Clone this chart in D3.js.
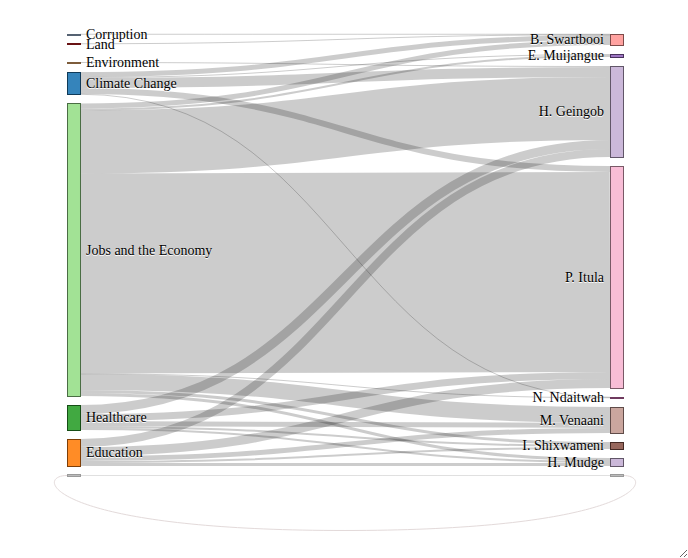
<!DOCTYPE html>
<html><head><meta charset="utf-8">
<script src="https://cdn.jsdelivr.net/npm/d3@7"></script>
<style>
html,body{margin:0;padding:0;background:#fff;}
#wrap{width:688px;height:558px;resize:both;overflow:hidden;position:relative;}
svg{display:block;}
.node text{font-family:"Liberation Serif","Times New Roman",serif;font-size:14px;fill:#000;text-shadow:0 1px 0 #fff;pointer-events:none;}
</style></head><body><div id="wrap"></div>
<script>
// ---------- data ----------
const leftNodes  = ["Corruption","Land","Environment","Climate Change","Jobs and the Economy","Healthcare","Education",""];
const rightNodes = ["B. Swartbooi","E. Muijangue","H. Geingob","P. Itula","N. Ndaitwah","M. Venaani","I. Shixwameni","H. Mudge",""];
const linkSource = [
  "Corruption","Land","Environment",
  "Climate Change","Climate Change","Climate Change","Climate Change","Climate Change",
  "Jobs and the Economy","Jobs and the Economy","Jobs and the Economy","Jobs and the Economy","Jobs and the Economy","Jobs and the Economy","Jobs and the Economy","Jobs and the Economy",
  "Healthcare","Healthcare","Healthcare","Healthcare","Healthcare",
  "Education","Education","Education","Education","Education",
  ""];
const linkTarget = [
  "B. Swartbooi","B. Swartbooi","H. Geingob",
  "B. Swartbooi","E. Muijangue","H. Geingob","P. Itula","N. Ndaitwah",
  "B. Swartbooi","E. Muijangue","H. Geingob","P. Itula","N. Ndaitwah","M. Venaani","I. Shixwameni","H. Mudge",
  "H. Geingob","P. Itula","M. Venaani","I. Shixwameni","H. Mudge",
  "H. Geingob","P. Itula","M. Venaani","I. Shixwameni","H. Mudge",
  ""];
const linkValue = [
  0.5,0.5,1,
  5,1,10,6,0.5,
  5,2,63,200,0.5,16,3,3,
  9,7,5,2,2,
  8,9,5,2,3,
  1];
// loop link (right column back to left column)
const loopFrom = "", loopTo = "", loopValue = 1;
// where the spare room of a shorter column goes (after this node)
const slackAfter = ["Land", null];
const palette20 = ["#1f77b4","#aec7e8","#ff7f0e","#ffbb78","#2ca02c","#98df8a","#d62728","#ff9896","#9467bd","#c5b0d5","#8c564b","#c49c94","#e377c2","#f7b6d2","#7f7f7f","#c7c7c7","#bcbd22","#dbdb8d","#17becf","#9edae5"];
const otherColor = "#b4b4b4";

// ---------- layout ----------
const W = 688, H = 558;
const X0 = 67, X1 = 623, Y0 = 34, Y1 = 476, nodeW = 13, pad = 9;

const columns = [leftNodes, rightNodes].map((arr, c) =>
  arr.map(name => ({name, col: c, sourceLinks: [], targetLinks: []})));
const find = (c, n) => columns[c].find(d => d.name === n);
const links = linkSource.map((s, i) => ({source: find(0, s), target: find(1, linkTarget[i]), value: linkValue[i]}));
links.forEach(l => { l.source.sourceLinks.push(l); l.target.targetLinks.push(l); });
const loop = {source: find(1, loopFrom), target: find(0, loopTo), value: loopValue};

const allNodes = columns.flat();
allNodes.forEach(n => {
  const out = d3.sum(n.sourceLinks, l => l.value) + (loop.source === n ? loop.value : 0);
  const inn = d3.sum(n.targetLinks, l => l.value) + (loop.target === n ? loop.value : 0);
  n.value = Math.max(out, inn);
});

const ky = d3.min(columns, col => (Y1 - Y0 - (col.length - 1) * pad) / d3.sum(col, d => d.value));
const vScale = d3.scaleLinear().domain([0, 1]).range([0, ky]);
const xScale = d3.scaleLinear().domain([0, 1]).range([X0, X1 - nodeW]);

columns.forEach((col, c) => {
  const total = d3.sum(col, d => vScale(d.value)) + (col.length - 1) * pad;
  const slack = (Y1 - Y0) - total;
  let y = Y0;
  col.forEach(n => {
    n.x0 = xScale(c); n.x1 = n.x0 + nodeW;
    n.y0 = y; n.y1 = y + vScale(n.value);
    y = n.y1 + pad;
    if (slackAfter[c] === n.name) y += slack;
  });
});

links.forEach(l => l.width = vScale(l.value));
loop.width = vScale(loop.value);
allNodes.forEach(n => {
  n.sourceLinks.sort((a, b) => a.target.y0 - b.target.y0);
  n.targetLinks.sort((a, b) => a.source.y0 - b.source.y0);
  let sy = n.y0, ty = n.y0;
  n.sourceLinks.forEach(l => { l.y0 = sy + l.width / 2; sy += l.width; });
  n.targetLinks.forEach(l => { l.y1 = ty + l.width / 2; ty += l.width; });
});

// ---------- colours (category20, keyed by first word, in alphabetical order per column) ----------
const firstWord = n => n.replace(/ .*/, "");
const keys = [];
columns.forEach(col => {
  Array.from(new Set(col.filter(n => n.name).map(n => firstWord(n.name)))).sort(d3.ascending)
    .forEach(k => { if (!keys.includes(k)) keys.push(k); });
});
const color = d3.scaleOrdinal().domain(keys.concat([""])).range(palette20.slice(0, keys.length).concat([otherColor]));

// ---------- draw ----------
const svg = d3.select("#wrap").append("svg").attr("width", W).attr("height", H);

const linkPath = d3.linkHorizontal().source(d => [d.source.x1, d.y0]).target(d => [d.target.x0, d.y1]);

svg.append("g").attr("fill", "none")
  .selectAll("path").data(links.slice().sort((a, b) => b.width - a.width)).join("path")
  .attr("d", linkPath)
  .attr("stroke", "#000").attr("stroke-opacity", d => d.source.name ? 0.2 : 0.12)
  .attr("stroke-width", d => Math.max(1, d.width));

// loop link drawn beneath the chart
const loopDepth = 55, loopReach = 34;
(function () {
  const sx = loop.source.x1, sy = loop.source.y0 + loop.width / 2;
  const tx = loop.target.x0, ty = loop.target.y0 + loop.width / 2;
  const bottom = Math.max(sy, ty) + loopDepth, mid = (sx + tx) / 2;
  const p = d3.path();
  p.moveTo(sx, sy);
  p.bezierCurveTo(sx + loopReach, sy, sx + loopReach * 0.5, bottom, mid, bottom);
  p.bezierCurveTo(tx - loopReach * 0.5, bottom, tx - loopReach, ty, tx, ty);
  svg.append("path").attr("d", p.toString()).attr("fill", "none")
    .attr("stroke", "#e3dada").attr("stroke-width", Math.max(1, loop.width));
})();

const node = svg.append("g").selectAll("g").data(allNodes).join("g").attr("class", "node");
node.append("rect")
  .attr("x", d => d.x0).attr("y", d => d.name ? d.y0 : d.y0 - 0.5)
  .attr("width", nodeW).attr("height", d => Math.max(d.name ? 1 : 2, d.y1 - d.y0))
  .attr("fill", d => color(d.name ? firstWord(d.name) : "")).attr("fill-opacity", 0.9)
  .attr("stroke", d => d.name ? d3.rgb(color(firstWord(d.name))).darker(2) : "#9a9a9a")
  .attr("shape-rendering", "crispEdges");
node.filter(d => d.name).append("text")
  .attr("x", d => d.col === 0 ? d.x1 + 6 : d.x0 - 6)
  .attr("y", d => (d.y0 + d.y1) / 2)
  .attr("dy", "0.35em")
  .attr("text-anchor", d => d.col === 0 ? "start" : "end")
  .text(d => d.name);
</script></body></html>
